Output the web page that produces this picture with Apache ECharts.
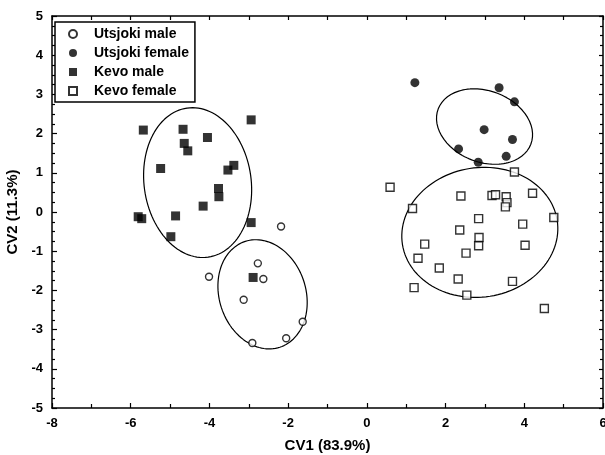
<!DOCTYPE html>
<html>
<head>
<meta charset="utf-8">
<title>CV1 / CV2</title>
<script src="https://cdn.jsdelivr.net/npm/echarts@6/dist/echarts.min.js"></script>
<style>
	html,body{margin:0;padding:0;background:#fff;}
	#cvplot{width:605px;height:455px;}
</style>
</head>
<body>
<div id="cvplot"></div>
<script>
var seriesNames = ['Utsjoki male','Utsjoki female','Kevo male','Kevo female'];

// [CV1, CV2]
var utsjokiMale = [[-2.18,-0.37],[-2.77,-1.31],[-4.01,-1.65],[-2.63,-1.71],[-3.13,-2.24],[-2.91,-3.34],[-2.05,-3.22],[-1.63,-2.80]];
var utsjokiFemale = [[1.22,3.30],[3.36,3.17],[3.75,2.81],[2.98,2.10],[3.70,1.85],[2.33,1.61],[3.54,1.42],[2.83,1.27]];
var kevoMale = [[-5.68,2.09],[-4.67,2.11],[-2.94,2.35],[-4.05,1.90],[-4.64,1.75],[-4.55,1.56],[-5.24,1.11],[-3.53,1.07],
	[-3.38,1.19],[-3.77,0.60],[-3.76,0.39],[-4.16,0.15],[-5.81,-0.12],[-5.72,-0.17],[-4.86,-0.10],[-2.94,-0.27],
	[-4.98,-0.63],[-2.89,-1.67]];
var kevoFemale = [[3.75,1.02],[0.59,0.63],[2.39,0.41],[3.18,0.42],[3.27,0.44],[3.54,0.39],[3.56,0.24],[3.52,0.13],
	[4.21,0.48],[1.16,0.09],[2.84,-0.17],[3.96,-0.31],[4.75,-0.14],[2.36,-0.46],[2.85,-0.65],[2.84,-0.86],
	[1.47,-0.82],[4.02,-0.85],[2.52,-1.05],[1.30,-1.18],[1.84,-1.43],[2.32,-1.71],[3.70,-1.77],[1.20,-1.93],
	[2.54,-2.12],[4.51,-2.46]];

// ellipses: centre, semi axes, rotation (deg)
var ellCx = [-4.30,-2.65,2.99,2.87];
var ellCy = [0.75,-2.10,2.18,-0.52];
var ellA = [1.36,1.10,1.26,1.99];
var ellB = [1.92,1.42,0.91,1.65];
var ellRot = [8,18,-21,9];

var xTicks = [-8,6,2];
var yTicks = [-5,5,1];

var fontFam = 'Liberation Sans, Arial, sans-serif';

function ellipse(i){
	var pts = [];
	var r = ellRot[i]*Math.PI/180;
	for(var k=0;k<=120;k++){
		var t = k/120*2*Math.PI;
		var ex = ellA[i]*Math.cos(t), ey = ellB[i]*Math.sin(t);
		pts.push([ellCx[i]+ex*Math.cos(r)-ey*Math.sin(r), ellCy[i]+ex*Math.sin(r)+ey*Math.cos(r)]);
	}
	return pts;
}

function drawPlot(){
	var myChart = echarts.init(document.getElementById('cvplot'), null, {renderer:'canvas'});
	var axisLine = {show:true, onZero:false, lineStyle:{color:'#000', width:1.5}};
	var series = [
		{name:seriesNames[0], type:'scatter', data:utsjokiMale, symbol:'circle', symbolSize:7,
			itemStyle:{color:'#fff', borderColor:'#000', borderWidth:1.4}, z:5},
		{name:seriesNames[1], type:'scatter', data:utsjokiFemale, symbol:'circle', symbolSize:9,
			itemStyle:{color:'#000'}, z:5},
		{name:seriesNames[2], type:'scatter', data:kevoMale, symbol:'rect', symbolSize:9,
			itemStyle:{color:'#000'}, z:5},
		{name:seriesNames[3], type:'scatter', data:kevoFemale, symbol:'rect', symbolSize:8,
			itemStyle:{color:'#fff', borderColor:'#000', borderWidth:1.4}, z:5}
	];
	for(var i=0;i<ellCx.length;i++){
		series.push({
			name:'ell'+i, type:'line', data:ellipse(i), showSymbol:false, symbol:'none',
			lineStyle:{color:'#000', width:1.2}, silent:true, z:3, animation:false
		});
	}
	var option = {
		animation:false,
		backgroundColor:'#fff',
		grid:{left:52, right:2, top:16, bottom:47, containLabel:false, outerBoundsMode:'none'},
		legend:{
			data:seriesNames, orient:'vertical', left:55, top:22,
			itemWidth:8, itemHeight:8, itemGap:5,
			padding:[5,6,4,13],
			borderColor:'#000', borderWidth:1.5, backgroundColor:'#fff',
			selectedMode:false,
			textStyle:{color:'#000', fontFamily:fontFam, fontWeight:'bold', fontSize:14, lineHeight:14, padding:[0,0,0,12]}
		},
		xAxis:[
			{
				type:'value', min:xTicks[0], max:xTicks[1], interval:xTicks[2], position:'bottom',
				axisLine:axisLine,
				axisTick:{show:true, inside:true, length:5, lineStyle:{color:'#000', width:1.2}},
				minorTick:{show:true, splitNumber:2, length:4, lineStyle:{color:'#000', width:1.2}},
				splitLine:{show:false},
				axisLabel:{show:true, margin:9, color:'#000', fontFamily:fontFam, fontWeight:'bold', fontSize:13},
				name:'CV1 (83.9%)', nameLocation:'middle', nameGap:30,
				nameTextStyle:{color:'#000', fontFamily:fontFam, fontWeight:'bold', fontSize:15}
			},
			{
				type:'value', min:xTicks[0], max:xTicks[1], interval:1, position:'top',
				axisLine:axisLine,
				axisTick:{show:true, inside:true, length:4, lineStyle:{color:'#000', width:1.2}},
				splitLine:{show:false}, axisLabel:{show:false}
			}
		],
		yAxis:[
			{
				type:'value', min:yTicks[0], max:yTicks[1], interval:yTicks[2], position:'left',
				axisLine:axisLine,
				axisTick:{show:true, inside:true, length:5, lineStyle:{color:'#000', width:1.2}},
				minorTick:{show:true, splitNumber:4, length:3, lineStyle:{color:'#000', width:1.2}},
				splitLine:{show:false},
				axisLabel:{show:true, margin:9, color:'#000', fontFamily:fontFam, fontWeight:'bold', fontSize:13},
				name:'CV2 (11.3%)', nameLocation:'middle', nameGap:25, nameRotate:90,
				nameTextStyle:{color:'#000', fontFamily:fontFam, fontWeight:'bold', fontSize:15}
			},
			{
				type:'value', min:yTicks[0], max:yTicks[1], interval:yTicks[2], position:'right',
				axisLine:axisLine,
				axisTick:{show:true, inside:true, length:4, lineStyle:{color:'#000', width:1.2}},
				minorTick:{show:true, splitNumber:4, length:3, lineStyle:{color:'#000', width:1.2}},
				splitLine:{show:false}, axisLabel:{show:false}
			}
		],
		series:series
	};
	myChart.setOption(option);
}

drawPlot();
</script>
</body>
</html>
